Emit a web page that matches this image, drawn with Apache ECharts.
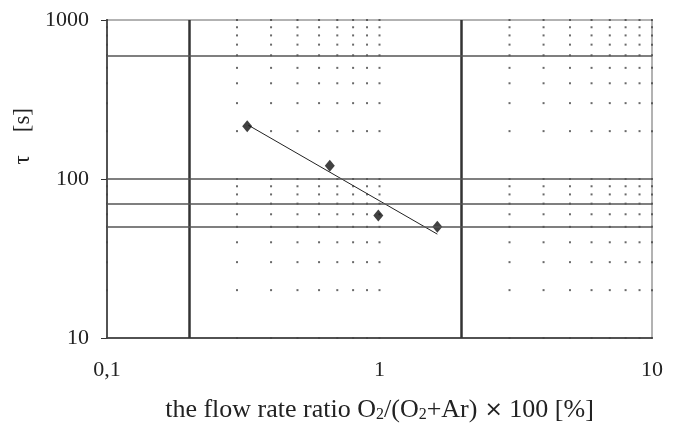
<!DOCTYPE html>
<html>
<head>
<meta charset="utf-8">
<script src="https://cdn.jsdelivr.net/npm/echarts@6/dist/echarts.min.js"></script>
<style>html,body{margin:0;padding:0;background:#fff;}#c{width:686px;height:426px;}</style>
</head>
<body>
<div id="c"></div>
<script>
// measured data points
var ratioX = [0.327, 0.657, 0.99, 1.63];
var tauY = [215, 121, 59, 50];
// fitted trend line end points
var trendX = [0.33, 1.63];
var trendY = [218, 45];
// emphasized grid lines
var vLines = [0.2, 2];
var hLines = [600, 100, 70, 50];
// minor dotted grid positions
var dotX = [0.1, 0.3, 0.4, 0.5, 0.6, 0.7, 0.8, 0.9, 1, 3, 4, 5, 6, 7, 8, 9, 10];
var dotY = [10, 20, 30, 40, 50, 60, 70, 80, 90, 100, 200, 300, 400, 500, 600, 700, 800, 900, 1000];
// tick labels
var xTickLabels = {0.1: '0,1', 1: '1', 10: '10'};
var yTickLabels = {10: '10', 100: '100', 1000: '1000'};

var dots = [];
dotX.forEach(function (x) { dotY.forEach(function (y) { dots.push([x, y]); }); });

var font = 'Liberation Serif';
var chart = echarts.init(document.getElementById('c'), null, {renderer: 'canvas'});
chart.setOption({
  animation: false,
  backgroundColor: '#fff',
  grid: {left: 107, right: 34, top: 20, bottom: 88, containLabel: false, outerBoundsMode: 'none',
         show: true, borderColor: '#666', borderWidth: 1},
  xAxis: {
    type: 'log', logBase: 10, min: 0.1, max: 10,
    name: '{n|the flow rate ratio O}{s|2}{n|/(O}{s|2}{n|+Ar)}{x| ×}{n| 100 [%]}',
    nameLocation: 'middle', nameGap: 59,
    nameTextStyle: {rich: {
      n: {fontFamily: font, fontSize: 26, color: '#222'},
      x: {fontFamily: 'DejaVu Sans', fontSize: 22, color: '#222'},
      s: {fontFamily: font, fontSize: 16, color: '#222', padding: [10, 0, 0, 0]}
    }},
    axisLine: {show: true, onZero: false, lineStyle: {color: '#333', width: 1.5}},
    axisTick: {show: false},
    splitLine: {show: false},
    minorTick: {show: false},
    axisLabel: {
      fontFamily: font, fontSize: 22, color: '#222', margin: 21,
      formatter: function (v) { var k = Math.round(v * 10) / 10; return xTickLabels[k] !== undefined ? xTickLabels[k] : ''; }
    }
  },
  yAxis: {
    type: 'log', logBase: 10, min: 10, max: 1000,
    axisLine: {show: true, onZero: false, lineStyle: {color: '#333', width: 1.5}},
    axisTick: {show: true, length: 6, lineStyle: {color: '#333'}},
    splitLine: {show: false},
    axisLabel: {
      fontFamily: font, fontSize: 22, color: '#222', margin: 18,
      formatter: function (v) { var k = Math.round(v); return yTickLabels[k] !== undefined ? yTickLabels[k] : ''; }
    }
  },
  graphic: [{
    type: 'text', left: 11, top: 108, rotation: Math.PI / 2,
    style: {text: 'τ    [s]', font: '23px "Liberation Serif"', fill: '#222'}
  }],
  series: [
    {
      type: 'scatter', name: 'grid', silent: true, symbol: 'rect', symbolSize: 2, clip: false,
      itemStyle: {color: '#444'}, data: dots, z: 1,
      markLine: {
        silent: true, symbol: 'none', label: {show: false},
        data: vLines.map(function (v) { return {xAxis: v, lineStyle: {color: '#333', width: 2.5, type: 'solid'}}; })
          .concat(hLines.map(function (v) { return {yAxis: v, lineStyle: {color: '#555', width: 1.5, type: 'solid'}}; }))
      }
    },
    {
      type: 'line', name: 'trend', symbol: 'none', z: 3,
      lineStyle: {color: '#222', width: 1},
      data: trendX.map(function (x, i) { return [x, trendY[i]]; })
    },
    {
      type: 'scatter', name: 'tau', symbol: 'diamond', symbolSize: [10, 12], z: 4,
      itemStyle: {color: '#111'},
      data: ratioX.map(function (x, i) { return [x, tauY[i]]; })
    }
  ]
});
</script>
</body>
</html>
